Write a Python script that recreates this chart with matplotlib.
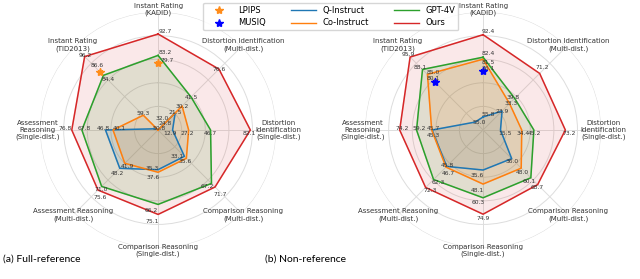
import numpy as np
import matplotlib.pyplot as plt
from matplotlib.lines import Line2D

# Axis names, clockwise from the top
categories = [
    "Instant Rating\n(KADID)",
    "Distortion Identification\n(Multi-dist.)",
    "Distortion\nIdentification\n(Single-dist.)",
    "Comparison Reasoning\n(Multi-dist.)",
    "Comparison Reasoning\n(Single-dist.)",
    "Assessment Reasoning\n(Multi-dist.)",
    "Assessment\nReasoning\n(Single-dist.)",
    "Instant Rating\n(TID2013)",
]

# (a) Full-reference
fr_q_instruct = [24.8, 21.5, 12.9, 33.1, 35.3, 48.2, 46.8, 50.8]
fr_co_instruct = [32.0, 30.2, 27.2, 35.6, 37.6, 41.9, 40.1, 59.3]
fr_gpt4v = [83.2, 41.5, 46.7, 67.2, 66.2, 71.0, 67.8, 84.4]
fr_ours = [92.7, 76.6, 82.1, 71.7, 75.1, 75.6, 76.8, 96.2]
fr_lpips = [79.7, 86.6]  # KADID, TID2013

# (b) Non-reference
nr_q_instruct = [55.8, 23.9, 15.5, 36.0, 35.6, 45.8, 45.3, 55.0]
nr_co_instruct = [81.5, 33.3, 34.4, 48.0, 48.1, 46.7, 45.7, 85.0]
nr_gpt4v = [82.4, 39.8, 45.2, 60.1, 60.3, 62.3, 59.2, 88.1]
nr_ours = [92.4, 71.2, 73.2, 68.7, 74.9, 72.3, 74.2, 95.9]
nr_musiq = [76.1, 80.1]  # KADID, TID2013

# rating axes are binary-choice accuracies, scaled from 50 (chance) to 100
rating_axes = [0, 7]

colors = {
    "Q-Instruct": "#1f77b4",
    "Co-Instruct": "#ff7f0e",
    "GPT-4V": "#2ca02c",
    "Ours": "#d62728",
}
fill_alpha = {"Q-Instruct": 0.13, "Co-Instruct": 0.13, "GPT-4V": 0.13, "Ours": 0.1}

n = len(categories)
angles = np.arange(n) * 2 * np.pi / n

# value-label nudges in pixels (dx, dy up), keyed by (series, axis index)
fr_nudges = {
    ("Ours", 0): (7, 3), ("GPT-4V", 0): (7, 3), ("LPIPS", 0): (9, 3),
    ("Co-Instruct", 0): (4, 12), ("Q-Instruct", 0): (7, 7),
    ("Ours", 2): (-1, -3), ("GPT-4V", 2): (0, -3), ("Co-Instruct", 2): (-1, -3),
    ("Q-Instruct", 2): (-3, -3),
    ("Ours", 3): (5, -8), ("GPT-4V", 3): (-4, -3), ("Co-Instruct", 3): (-1, -3),
    ("Q-Instruct", 3): (-7, 0),
    ("Ours", 4): (-6, -7), ("GPT-4V", 4): (-7, -6), ("Co-Instruct", 4): (-5, -5),
    ("Q-Instruct", 4): (-6, 1),
    ("Ours", 5): (2, -7), ("GPT-4V", 5): (0, -3), ("Co-Instruct", 5): (3, -3),
    ("Q-Instruct", 5): (-2, -5),
    ("Ours", 6): (-7, 2), ("GPT-4V", 6): (2, 2), ("Co-Instruct", 6): (6, 2),
    ("Q-Instruct", 6): (-2, 2),
    ("Ours", 7): (1, 1), ("GPT-4V", 7): (5, -4), ("LPIPS", 7): (-3, 6),
    ("Co-Instruct", 7): (0, 2), ("Q-Instruct", 7): (2, 0),
}
nr_nudges = {
    ("Ours", 0): (5, 3), ("GPT-4V", 0): (5, 4), ("Co-Instruct", 0): (5, -3),
    ("MUSIQ", 0): (5, 3), ("Q-Instruct", 0): (5, 2),
    ("Ours", 1): (3, 6), ("GPT-4V", 1): (-2, 1), ("Co-Instruct", 1): (2, 0),
    ("Ours", 2): (4, -3), ("GPT-4V", 2): (1, -3), ("Co-Instruct", 2): (1, -3),
    ("Q-Instruct", 2): (5, -3),
    ("Ours", 3): (0, -3), ("GPT-4V", 3): (-2, -4), ("Co-Instruct", 3): (1, -4),
    ("Q-Instruct", 3): (0, -3),
    ("Ours", 4): (0, -4), ("GPT-4V", 4): (-5, -5), ("Co-Instruct", 4): (-6, -6),
    ("Q-Instruct", 4): (-6, -5),
    ("Ours", 5): (5, -3), ("GPT-4V", 5): (5, -3), ("Co-Instruct", 5): (2, -6),
    ("Q-Instruct", 5): (1, 1),
    ("Ours", 6): (3, 2), ("GPT-4V", 6): (3, 2), ("Co-Instruct", 6): (2, 2),
    ("Q-Instruct", 6): (1, -5),
    ("Ours", 7): (-2, 3), ("GPT-4V", 7): (-2, 2), ("Co-Instruct", 7): (6, 2),
    ("MUSIQ", 7): (-2, 4), ("Q-Instruct", 7): (4, 0),
}


def to_radius(vals, idx=None):
    vals = np.asarray(vals, dtype=float)
    idx = np.arange(len(vals)) if idx is None else np.asarray(idx)
    r = vals / 100.0
    is_rating = np.isin(idx, rating_axes)
    r[is_rating] = (vals[is_rating] - 50) / 50.0
    return np.clip(r, 0, None)


def put_label(ax, theta, r, text, nudge):
    ax.annotate(text, (theta, r), xytext=nudge, textcoords="offset pixels",
                ha="center", va="center", fontsize=4.3, color="#333333",
                zorder=6)


def radar(ax, series, star, star_name, star_color, nudges):
    ax.set_theta_offset(np.pi / 2)
    ax.set_theta_direction(-1)
    ax.set_ylim(0, 1.05)
    ax.set_yticks(np.linspace(0.21, 1.05, 5))
    ax.set_yticklabels([])
    ax.set_xticks(angles)
    ax.set_xticklabels([])
    ax.grid(color="#dddddd", linewidth=0.7)
    ax.spines["polar"].set_visible(False)
    ax.set_facecolor("none")

    for a, name in zip(angles, categories):
        ax.text(a, 1.07, name, ha="center", va="center", fontsize=5,
                color="#333333", linespacing=1.15)

    th = np.append(angles, angles[0])
    for name, vals in series.items():
        r = to_radius(vals)
        rr = np.append(r, r[0])
        ax.fill(th, rr, color=colors[name], alpha=fill_alpha[name], zorder=2)
        ax.plot(th, rr, color=colors[name], linewidth=1.1, zorder=3)
        for i, v in enumerate(vals):
            put_label(ax, angles[i], r[i], f"{v:.1f}", nudges.get((name, i), (0, 0)))

    r_star = to_radius(star, rating_axes)
    ax.plot(angles[rating_axes], r_star, linestyle="none", marker="*",
            markersize=6, color=star_color, zorder=5)
    for i, r, v in zip(rating_axes, r_star, star):
        put_label(ax, angles[i], r, f"{v:.1f}", nudges.get((star_name, i), (0, 0)))


fig = plt.figure(figsize=(6.4, 2.79), dpi=100)

ax1 = fig.add_axes([0.0625, 0.111, 0.369, 0.846], projection="polar")
radar(ax1,
      {"Q-Instruct": fr_q_instruct, "Co-Instruct": fr_co_instruct,
       "GPT-4V": fr_gpt4v, "Ours": fr_ours},
      fr_lpips, "LPIPS", "#ff8c1a", fr_nudges)

ax2 = fig.add_axes([0.5703, 0.111, 0.369, 0.846], projection="polar")
radar(ax2,
      {"Q-Instruct": nr_q_instruct, "Co-Instruct": nr_co_instruct,
       "GPT-4V": nr_gpt4v, "Ours": nr_ours},
      nr_musiq, "MUSIQ", "#0000ff", nr_nudges)

handles = [
    Line2D([], [], linestyle="none", marker="*", markersize=6, color="#ff8c1a"),
    Line2D([], [], linestyle="none", marker="*", markersize=6, color="#0000ff"),
    Line2D([], [], color=colors["Q-Instruct"], linewidth=1.0),
    Line2D([], [], color=colors["Co-Instruct"], linewidth=1.0),
    Line2D([], [], color=colors["GPT-4V"], linewidth=1.0),
    Line2D([], [], color=colors["Ours"], linewidth=1.0),
]
labels = ["LPIPS", "MUSIQ", "Q-Instruct", "Co-Instruct", "GPT-4V", "Ours"]
fig.legend(handles, labels, loc="upper center", bbox_to_anchor=(0.517, 1.005),
           ncol=3, fontsize=6, handlelength=3.0, columnspacing=3.0,
           borderpad=0.35, labelspacing=0.45)

fig.text(0.005, 0.072, "(a) Full-reference", fontsize=7.5, family="Lato", va="center")
fig.text(0.414, 0.072, "(b) Non-reference", fontsize=7.5, family="Lato", va="center")

fig.savefig("out.png", dpi=100, facecolor="white")
